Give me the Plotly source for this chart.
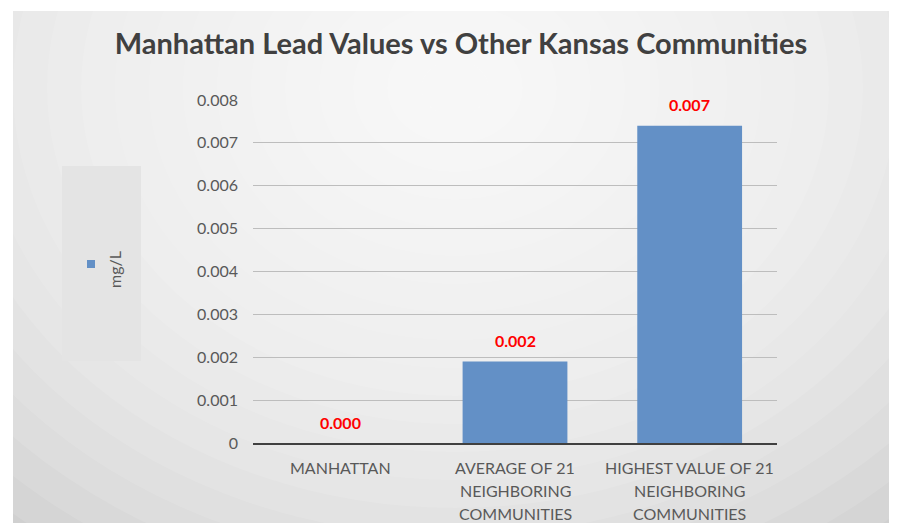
import plotly.graph_objects as go

categories = ["MANHATTAN", "AVERAGE OF 21 NEIGHBORING COMMUNITIES", "HIGHEST VALUE OF 21 NEIGHBORING COMMUNITIES"]
category_lines = [["MANHATTAN"], ["AVERAGE OF 21", "NEIGHBORING", "COMMUNITIES"], ["HIGHEST VALUE OF 21", "NEIGHBORING", "COMMUNITIES"]]
lead_mg_per_l = [0.0, 0.0019, 0.0074]
y_ticks = [0, 0.001, 0.002, 0.003, 0.004, 0.005, 0.006, 0.007, 0.008]
y_tick_labels = ["0", "0.001", "0.002", "0.003", "0.004", "0.005", "0.006", "0.007", "0.008"]
series_name = "mg/L"
title = "Manhattan Lead Values vs Other Kansas Communities"

# page has an 8px body margin, so figure coords = screen coords - 8
W, H = 899, 523
ML, MT = 245, 92
PW, PH = 524, 343
MR = W - ML - PW
MB = H - MT - PH

def px_x(px):
    return (px - ML) / PW

def px_y(py):
    return (MT + PH - py) / PH

FONT = "Lato"
BAR = "#6390C6"

fig = go.Figure()
fig.add_trace(go.Bar(
    x=categories, y=lead_mg_per_l, name=series_name,
    marker=dict(color=BAR, line=dict(width=0)),
    width=0.6, showlegend=False,
))

shapes = []
shapes.append(dict(type="rect", xref="paper", yref="paper", layer="below",
                   x0=px_x(5), x1=px_x(881), y0=px_y(H + 20), y1=px_y(3),
                   fillcolor="#d0d0d0", line=dict(width=0)))
cx, cy = 447, 80
n = 20
for i in range(n):
    f = 1 - i / n
    rx, ry = 680 * f, 560 * f
    shapes.append(dict(type="circle", xref="paper", yref="paper", layer="below",
                       x0=px_x(cx - rx), x1=px_x(cx + rx), y0=px_y(cy + ry), y1=px_y(cy - ry),
                       fillcolor="rgba(255,255,255,0.11)", line=dict(width=0)))
shapes.append(dict(type="rect", xref="paper", yref="paper", layer="below",
                   x0=px_x(54), x1=px_x(133), y0=px_y(353), y1=px_y(158),
                   fillcolor="#e4e4e4", line=dict(width=0)))
shapes.append(dict(type="rect", xref="paper", yref="paper", layer="above",
                   x0=px_x(79), x1=px_x(87), y0=px_y(260), y1=px_y(252),
                   fillcolor=BAR, line=dict(width=0)))

annotations = []
annotations.append(dict(xref="paper", yref="paper", x=px_x(106), y=px_y(262),
                        text=series_name, textangle=-90, showarrow=False,
                        xanchor="center", yanchor="middle",
                        font=dict(family=FONT, size=16, color="#595959")))
for c, v in zip(categories, lead_mg_per_l):
    annotations.append(dict(x=c, y=v, xref="x", yref="y", text=f"{v:.3f}", showarrow=False,
                            yanchor="middle", yshift=21,
                            font=dict(family=FONT, size=16, color="#FF0000", weight="bold")))
for c, lines in zip(categories, category_lines):
    for i, ln in enumerate(lines):
        annotations.append(dict(x=c, y=0, xref="x", yref="paper", text=ln, showarrow=False,
                                yanchor="middle", yshift=-(24 + 23 * i),
                                font=dict(family=FONT, size=16, color="#595959")))

fig.update_layout(
    width=W, height=H,
    margin=dict(l=ML, r=MR, t=MT, b=MB),
    paper_bgcolor="white", plot_bgcolor="rgba(0,0,0,0)",
    title=dict(text=title, x=453 / W, xanchor="center", y=1 - 36 / H, yanchor="middle",
               font=dict(family=FONT, size=29, color="#404040", weight="bold")),
    shapes=shapes, annotations=annotations,
    xaxis=dict(showticklabels=False, showgrid=False, showline=True, linecolor="#404040", linewidth=2,
               ticks="", zeroline=False),
    yaxis=dict(range=[0, 0.008], tickvals=y_ticks, ticktext=y_tick_labels, showgrid=True,
               gridcolor="#bdbdbd", gridwidth=1, zeroline=False, showline=False,
               ticklabelstandoff=14, tickfont=dict(family=FONT, size=16, color="#595959")),
)
fig.write_html("out.html")
